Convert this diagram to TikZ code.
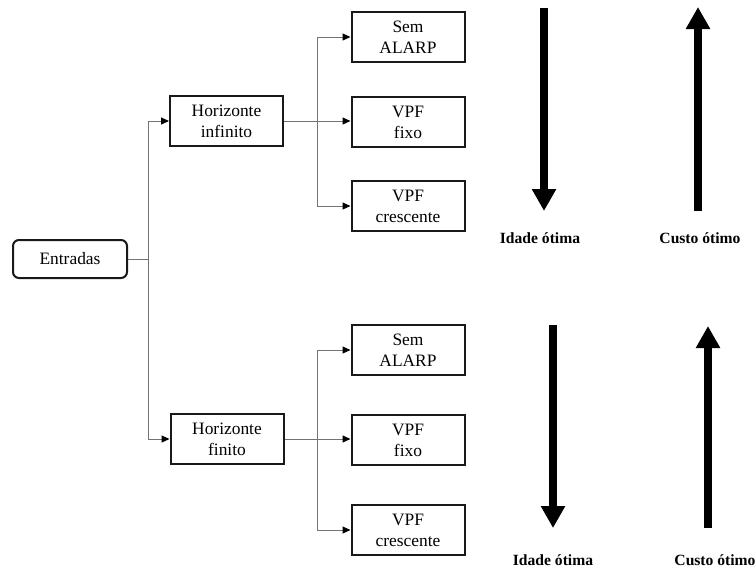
\documentclass[tikz,border=0pt]{standalone}
\usepackage{fontspec}
\setmainfont{Liberation Serif}
\usetikzlibrary{arrows.meta}
\begin{document}
\begin{tikzpicture}[x=1pt,y=-1pt,
  box/.style={draw=black!90,line width=2pt,minimum width=113pt,minimum height=50pt,inner sep=0pt,align=center,font=\fontsize{17.4}{21}\selectfont},
  rbox/.style={box,rounded corners=6pt,minimum width=114pt,minimum height=38pt},
  conn/.style={draw=black!55,line width=1pt},
  tipc/.style={conn,-{Triangle[width=7pt,length=8pt,fill=black,color=black]}},
  fat/.style={line width=8pt,black,-{Triangle[width=23pt,length=22pt]}},
  lab/.style={font=\fontsize{15.6}{18}\selectfont\bfseries}]
\useasboundingbox (0,0) rectangle (755,574);
% nodes
\node[rbox] (ent) at (70,259) {Entradas};
\node[box] (hinf) at (226.5,121) {Horizonte\\infinito};
\node[box] (hfin) at (227,439) {Horizonte\\finito};
\node[box] (sem1) at (408,37) {Sem\\ALARP};
\node[box] (fix1) at (408,122) {VPF\\fixo};
\node[box] (cre1) at (408,206) {VPF\\crescente};
\node[box] (sem2) at (408,350) {Sem\\ALARP};
\node[box] (fix2) at (408,440) {VPF\\fixo};
\node[box] (cre2) at (408,530) {VPF\\crescente};
% connectors
\coordinate (t) at (148,259);
\draw[conn] (ent.east) -- (t);
\draw[tipc] (t) |- (hinf.west);
\draw[tipc] (t) |- (hfin.west);
\coordinate (b1) at (317,121);
\draw[tipc] (hinf.east) -- (hinf.east -| fix1.west);
\draw[tipc] (b1) |- (sem1.west);
\draw[tipc] (b1) |- (cre1.west);
\coordinate (b2) at (317,439);
\draw[tipc] (hfin.east) -- (hfin.east -| fix2.west);
\draw[tipc] (b2) |- (sem2.west);
\draw[tipc] (b2) |- (cre2.west);
% fat arrows
\coordinate (a1s) at (544,8);
\coordinate (a1e) at (544,211);
\draw[fat] (a1s) -- (a1e);
\coordinate (a2s) at (698,211);
\coordinate (a2e) at (698,7);
\draw[fat] (a2s) -- (a2e);
\coordinate (a3s) at (553,325);
\coordinate (a3e) at (553,528);
\draw[fat] (a3s) -- (a3e);
\coordinate (a4s) at (708,528);
\coordinate (a4e) at (708,326);
\draw[fat] (a4s) -- (a4e);
% labels
\node[lab] (l1) at (540,238) {Idade ótima};
\node[lab] (l2) at (700,238) {Custo ótimo};
\node[lab] (l3) at (553,560) {Idade ótima};
\node[lab] (l4) at (715,560) {Custo ótimo};
\end{tikzpicture}
\end{document}
